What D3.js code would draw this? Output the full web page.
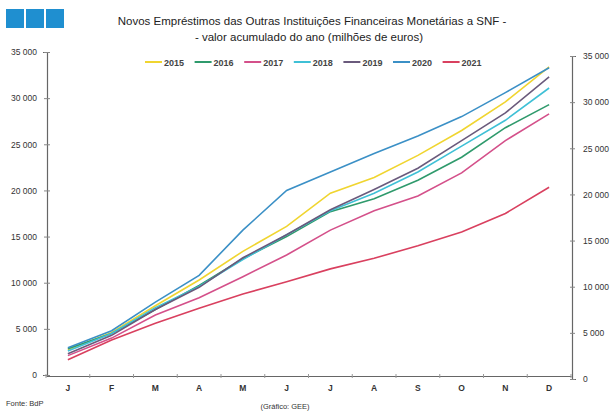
<!DOCTYPE html>
<html><head><meta charset="utf-8">
<script src="https://cdn.jsdelivr.net/npm/d3@7"></script>
<style>body{margin:0;background:#fff}svg{display:block;font-family:"Liberation Sans",Arial,sans-serif}</style>
</head><body><svg id="c" width="612" height="411"></svg>
<script>
const months = ["J","F","M","A","M","J","J","A","S","O","N","D"];
const yTicks = [0,5000,10000,15000,20000,25000,30000,35000];
const years = ["2015","2016","2017","2018","2019","2020","2021"];
const s2015 = [2700,4600,7500,10300,13400,16100,19700,21400,23800,26500,29600,33400];
const s2016 = [2850,4500,7100,9700,12600,15000,17700,19100,21100,23600,26800,29300];
const s2017 = [2100,4000,6500,8380,10650,13000,15700,17800,19400,21900,25400,28300];
const s2018 = [2600,4500,7300,9600,12500,15200,17800,19700,22000,24800,27600,31100];
const s2019 = [2300,4300,7100,9500,12700,15200,17900,20100,22400,25400,28400,32300];
const s2020 = [2950,4800,7900,10800,15700,20000,22000,24000,25900,28000,30600,33300];
const s2021 = [1650,3800,5600,7230,8780,10100,11500,12650,14000,15500,17500,20350];
const seriesVals = [s2015,s2016,s2017,s2018,s2019,s2020,s2021];
const colors = ["#f0d530","#2f9a6c","#d4508a","#3fc0d6","#6a5a7c","#3b90c6","#d9405f"];

const svg = d3.select("#c");
const txt = "#333";
// logo
svg.selectAll("rect.logo").data([0,1,2]).enter().append("rect")
  .attr("x",d=>6+d*20).attr("y",9).attr("width",18).attr("height",19).attr("fill","#1f8fd0");

svg.append("text").attr("x",312).attr("y",25).attr("text-anchor","middle").attr("font-size",11.5).attr("fill","#222")
  .text("Novos Empréstimos das Outras Instituições Financeiras Monetárias a SNF -");
svg.append("text").attr("x",309).attr("y",41).attr("text-anchor","middle").attr("font-size",11.5).attr("fill","#222")
  .text("- valor acumulado do ano (milhões de euros)");

const x = d3.scaleBand().domain(d3.range(12)).range([46,571]);
const yL = d3.scaleLinear().domain([0,35000]).range([375,52]);
const yR = d3.scaleLinear().domain([0,35000]).range([379,56]);
const fmt = d => d===0 ? "0" : d3.format(",")(d).replace(",", " ");

// left axis
const gl = svg.append("g").attr("transform","translate(47,0)")
  .call(d3.axisLeft(yL).tickValues(yTicks).tickFormat(fmt).tickSize(4).tickPadding(6));
gl.selectAll(".tick line").attr("x2",3).attr("x1",-3);
// right axis
const gr = svg.append("g").attr("transform","translate(572,0)")
  .call(d3.axisRight(yR).tickValues(yTicks).tickFormat(fmt).tickSize(4).tickPadding(7));
gr.selectAll(".tick line").attr("x1",-2).attr("x2",3);
// bottom axis
const gb = svg.append("g").attr("transform","translate(0,376)")
  .call(d3.axisBottom(x).tickFormat(i=>months[i]).tickSize(0).tickPadding(9));
svg.append("g").selectAll("line").data(d3.range(13)).enter().append("line")
  .attr("x1",i=>46+i*x.step()).attr("x2",i=>46+i*x.step()).attr("y1",374).attr("y2",378)
  .attr("stroke","#999");
[gl,gr,gb].forEach(g=>{
  g.select(".domain").attr("stroke","#666").attr("stroke-width",1.2);
  g.selectAll(".tick line").attr("stroke","#888");
  g.selectAll("text").attr("fill",txt).attr("font-size",8.5);
});
gb.selectAll("text").attr("font-size",8.5).attr("font-weight","bold");

// lines
const line = d3.line().x((d,i)=>x(i)+x.bandwidth()/2).y(d=>yL(d));
svg.append("g").selectAll("path").data(seriesVals).enter().append("path")
  .attr("d",line).attr("fill","none").attr("stroke",(d,i)=>colors[i]).attr("stroke-width",1.6);

// legend
const lg = svg.append("g").selectAll("g").data(years).enter().append("g")
  .attr("transform",(d,i)=>`translate(${145+i*49.6},62)`);
lg.append("line").attr("x1",0).attr("x2",17).attr("y1",0).attr("y2",0).attr("stroke",(d,i)=>colors[i]).attr("stroke-width",2);
lg.append("text").attr("x",19).attr("y",3.5).attr("font-size",9).attr("font-weight","bold").attr("fill","#444").text(d=>d);

svg.append("text").attr("x",6).attr("y",406).attr("font-size",7.5).attr("fill",txt).text("Fonte: BdP");
svg.append("text").attr("x",285).attr("y",409).attr("text-anchor","middle").attr("font-size",7.5).attr("fill",txt).text("(Gráfico: GEE)");
</script></body></html>
